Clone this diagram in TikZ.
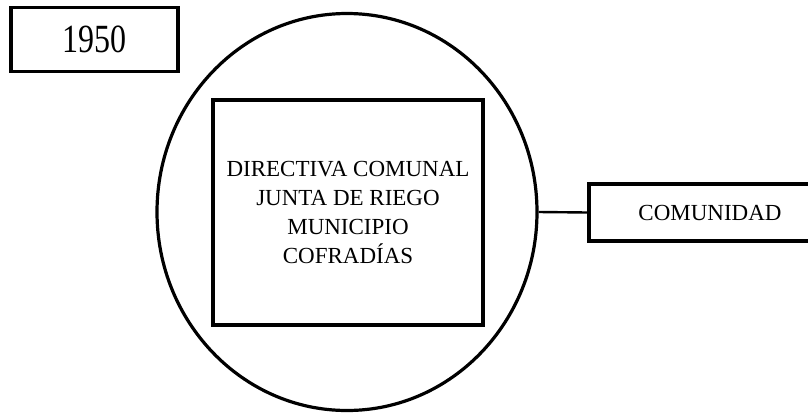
\documentclass[tikz,border=0pt]{standalone}
\usepackage{fontspec}
\setmainfont{Liberation Serif}
\usetikzlibrary{shapes.geometric}
\tikzset{
    caja/.style={draw, line width=3.2pt, inner sep=0pt, align=center},
    texto/.style={font=\fontsize{23}{29}\selectfont}
}
\begin{document}
\begin{tikzpicture}[x=1pt, y=-1pt]
\useasboundingbox (0,0) rectangle (808,413);

\node[caja, minimum width=167, minimum height=64] (anio) at (94.5,39.5)
    {\fontsize{40}{40}\selectfont\scalebox{0.8}[1]{1950}};

\node[draw, ellipse, line width=3.2pt, minimum width=380, minimum height=397] (circulo) at (347,212) {};

\node[caja, texto, minimum width=270, minimum height=225] (instituciones) at (348,212.5)
    {DIRECTIVA COMUNAL\\JUNTA DE RIEGO\\MUNICIPIO\\COFRADÍAS};

\node[caja, texto, minimum width=242, minimum height=57] (comunidad) at (710,212.5) {COMUNIDAD};

\draw[line width=2.4pt] (circulo.east) -- (comunidad.west);

\end{tikzpicture}
\end{document}
